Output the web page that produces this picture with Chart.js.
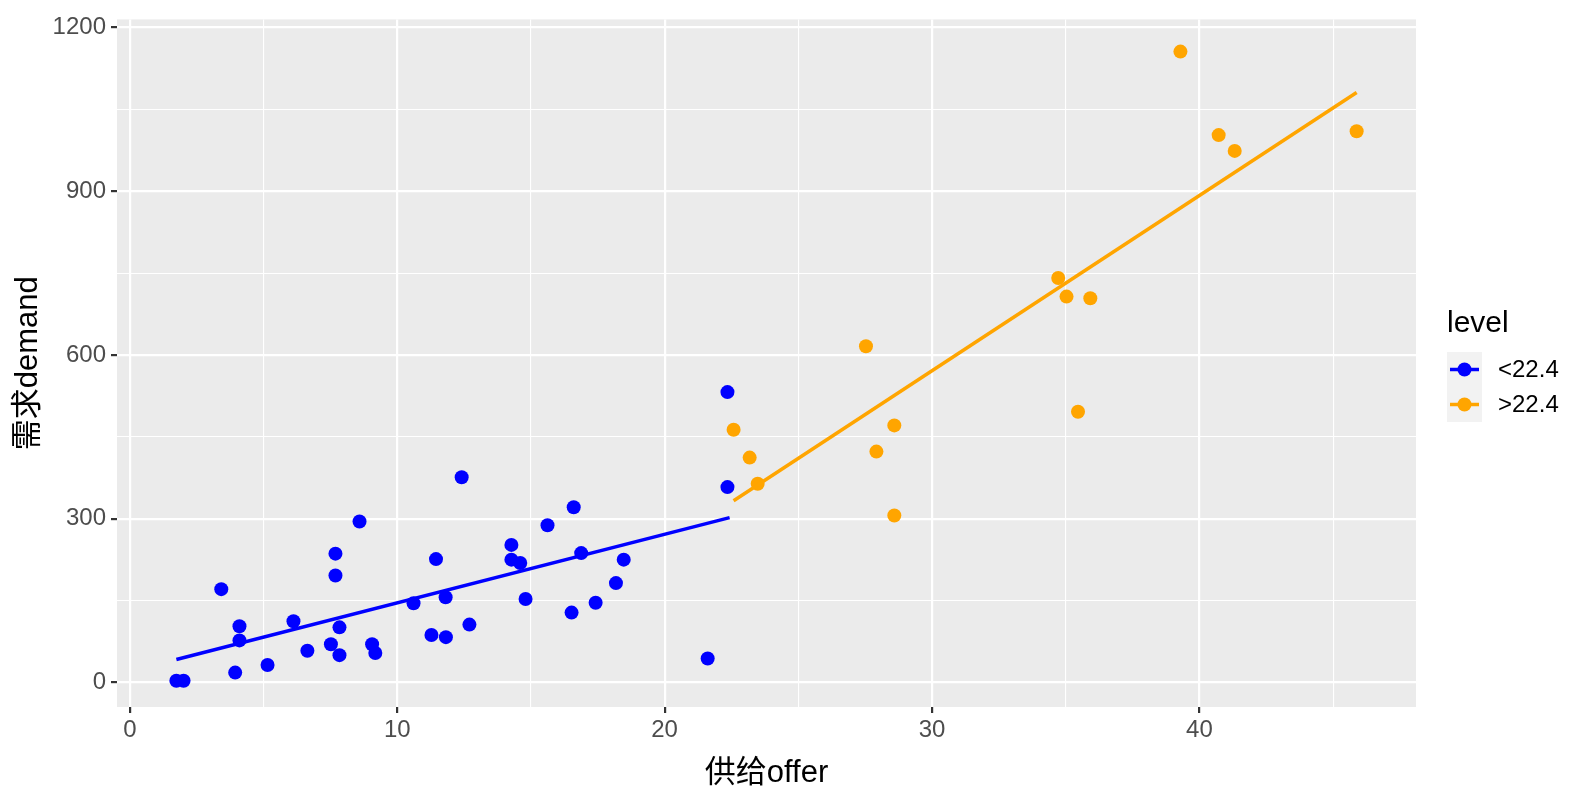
<!DOCTYPE html>
<html>
<head>
<meta charset="utf-8">
<script src="https://cdn.jsdelivr.net/npm/chart.js@4/dist/chart.umd.min.js"></script>
<style>
  body { margin: 0; background: #fff; }
</style>
</head>
<body>
<canvas id="chart" width="1570" height="789"></canvas>
<script>
// values
var lowX = [1.74, 2.01, 3.42, 4.10, 4.10, 3.94, 5.15, 6.12, 6.64, 7.69, 7.69, 7.84, 7.52, 7.84, 8.59,
            9.06, 9.18, 10.61, 11.45, 11.81, 11.28, 11.82, 12.70, 12.41, 14.27, 14.27, 14.60, 14.80,
            15.62, 16.60, 16.88, 16.52, 17.42, 18.18, 18.47, 22.35, 22.35, 21.61];
var lowY = [3, 3, 171, 103, 77, 18, 32, 112, 58, 236, 196, 101, 70, 50, 295,
            70, 54, 145, 226, 156, 87, 83, 106, 376, 252, 225, 219, 153,
            288, 321, 237, 128, 146, 182, 225, 532, 358, 44];
var highX = [22.58, 23.18, 23.48, 27.53, 28.59, 27.92, 28.59, 34.72, 35.03, 35.92, 35.46, 39.29, 40.72, 41.32, 45.88];
var highY = [463, 412, 364, 616, 471, 423, 306, 741, 707, 704, 496, 1156, 1003, 974, 1010];

// fitted lines (ends as drawn)
var lowFitX = [1.74, 22.43];
var lowFitY = [42, 302];
var highFitX = [22.58, 45.88];
var highFitY = [333, 1081];

var levels = ['<22.4', '>22.4'];
var colors = ['#0000FF', '#FFA500'];

var xTicks = [0, 5, 10, 15, 20, 25, 30, 35, 40, 45];
var yTicks = [0, 150, 300, 450, 600, 750, 900, 1050, 1200];
var xLabelStep = 10;
var yLabelStep = 300;

var FONT = '"Liberation Sans", Arial, "Noto Sans CJK SC", sans-serif';

function pts(xs, ys) {
    return xs.map(function (x, i) { return { x: x, y: ys[i] }; });
}

var panelBg = {
    id: 'panelBg',
    beforeDraw: function (chart) {
        var a = chart.chartArea, c = chart.ctx;
        c.save();
        c.fillStyle = '#EBEBEB';
        c.fillRect(a.left, a.top, a.right - a.left, a.bottom - a.top);
        c.restore();
    }
};

var legendBox = {
    id: 'legendBox',
    afterDraw: function (chart) {
        var c = chart.ctx;
        var x0 = 1447, y0 = 352, kw = 35, kh = 35;
        c.save();
        c.font = '30px ' + FONT;
        c.fillStyle = '#000';
        c.textBaseline = 'middle';
        c.fillText('level', x0, 324);
        c.font = '24px ' + FONT;
        levels.forEach(function (lab, i) {
            var cy = y0 + i * kh + kh / 2;
            c.fillStyle = '#F2F2F2';
            c.fillRect(x0, y0 + i * kh, kw, kh);
            c.strokeStyle = colors[i];
            c.lineWidth = 3.5;
            c.beginPath();
            c.moveTo(x0 + 3, cy);
            c.lineTo(x0 + kw - 3, cy);
            c.stroke();
            c.fillStyle = colors[i];
            c.beginPath();
            c.arc(x0 + kw / 2, cy, 7, 0, Math.PI * 2);
            c.fill();
            c.fillStyle = '#000';
            c.fillText(lab, x0 + 51, cy + 1);
        });
        c.restore();
    }
};

var ctx = document.getElementById('chart').getContext('2d');

var chart = new Chart(ctx, {
    type: 'scatter',
    data: {
        datasets: [{
            label: levels[0] + ' fit',
            data: pts(lowFitX, lowFitY),
            showLine: true,
            borderColor: colors[0],
            borderWidth: 3.5,
            pointRadius: 0,
            order: 0
        }, {
            label: levels[1] + ' fit',
            data: pts(highFitX, highFitY),
            showLine: true,
            borderColor: colors[1],
            borderWidth: 3.5,
            pointRadius: 0,
            order: 0
        }, {
            label: levels[0],
            data: pts(lowX, lowY),
            backgroundColor: colors[0],
            borderWidth: 0,
            pointRadius: 7,
            order: 1
        }, {
            label: levels[1],
            data: pts(highX, highY),
            backgroundColor: colors[1],
            borderWidth: 0,
            pointRadius: 7,
            order: 1
        }]
    },
    options: {
        responsive: false,
        animation: false,
        layout: { padding: { left: 0, top: 15, right: 154, bottom: -3 } },
        plugins: {
            legend: { display: false },
            tooltip: { enabled: false }
        },
        scales: {
            x: {
                type: 'linear',
                min: -0.48,
                max: 48.1,
                afterBuildTicks: function (s) { s.ticks = xTicks.map(function (v) { return { value: v }; }); },
                afterFit: function (s) { s.height = 85; },
                border: { display: false },
                grid: {
                    color: '#FFFFFF',
                    lineWidth: function (c) { return c.tick && c.tick.value % xLabelStep === 0 ? 2.2 : 1.1; },
                    tickColor: function (c) { return c.tick && c.tick.value % xLabelStep === 0 ? '#333333' : 'rgba(0,0,0,0)'; },
                    tickLength: 6
                },
                ticks: {
                    color: '#4D4D4D',
                    font: { family: FONT, size: 24 },
                    padding: 3,
                    maxRotation: 0,
                    autoSkip: false,
                    callback: function (v) { return v % xLabelStep === 0 ? String(v) : ''; }
                },
                title: {
                    display: true,
                    text: '供给offer',
                    color: '#000',
                    font: { family: FONT, size: 31 },
                    padding: { top: 0, bottom: 0 }
                }
            },
            y: {
                type: 'linear',
                min: -45,
                max: 1215,
                afterBuildTicks: function (s) { s.ticks = yTicks.map(function (v) { return { value: v }; }); },
                afterFit: function (s) { s.width = 117; },
                border: { display: false },
                grid: {
                    color: '#FFFFFF',
                    lineWidth: function (c) { return c.tick && c.tick.value % yLabelStep === 0 ? 2.2 : 1.1; },
                    tickColor: function (c) { return c.tick && c.tick.value % yLabelStep === 0 ? '#333333' : 'rgba(0,0,0,0)'; },
                    tickLength: 6
                },
                ticks: {
                    color: '#4D4D4D',
                    font: { family: FONT, size: 24 },
                    padding: 5,
                    autoSkip: false,
                    callback: function (v) { return v % yLabelStep === 0 ? String(v) : ''; }
                },
                title: {
                    display: true,
                    text: '需求demand',
                    color: '#000',
                    font: { family: FONT, size: 31 },
                    padding: { top: 10, bottom: 0 }
                }
            }
        }
    },
    plugins: [panelBg, legendBox]
});
</script>
</body>
</html>
